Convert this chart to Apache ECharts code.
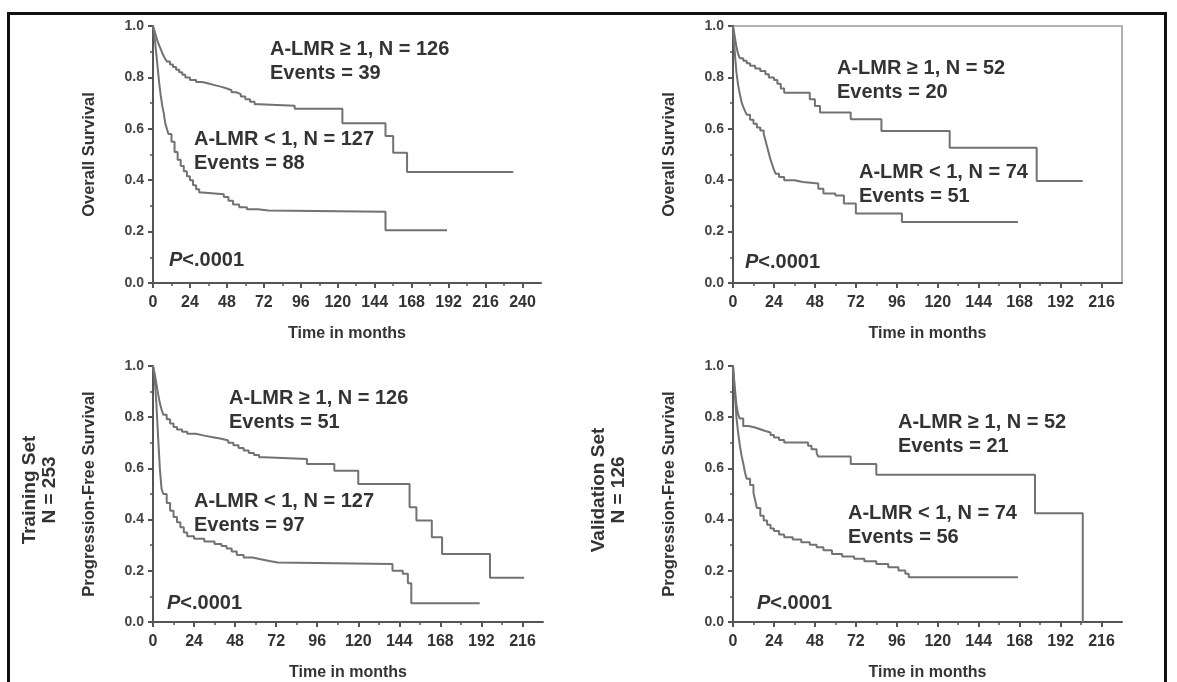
<!DOCTYPE html>
<html>
<head>
<meta charset="utf-8">
<script src="https://cdn.jsdelivr.net/npm/echarts@6/dist/echarts.min.js"></script>
<style>
  html, body { margin: 0; padding: 0; background: #fff; }
  #chart { width: 1177px; height: 682px; }
</style>
</head>
<body>
<div id="chart"></div>
<script>
// Kaplan-Meier curves, [months, survival]
var trainOsHigh = [[0,1],[1,0.98],[2,0.96],[3,0.94],[4,0.925],[5,0.91],[6,0.895],[7,0.882],[8,0.872],[9,0.862],[11,0.85],[13,0.84],[15,0.83],[17,0.82],[19,0.81],[21,0.8],[24,0.79],[28,0.782],[32,0.776],[36,0.77],[40,0.764],[44,0.757],[48,0.75],[51,0.742],[54,0.735],[57,0.726],[60,0.715],[63,0.705],[66,0.696],[69,0.69],[92,0.678],[123,0.622],[151,0.572],[156,0.507],[165,0.432],[234,0.432]];
var trainOsLow = [[0,1],[1,0.96],[2,0.9],[3,0.84],[4,0.78],[5,0.73],[6,0.69],[7,0.66],[8,0.62],[9,0.6],[10,0.58],[12,0.55],[14,0.51],[16,0.48],[18,0.455],[20,0.435],[22,0.415],[24,0.4],[26,0.38],[28,0.365],[30,0.352],[32,0.345],[46,0.335],[49,0.32],[52,0.305],[56,0.295],[61,0.287],[68,0.282],[75,0.277],[151,0.205],[191,0.205]];
var valOsHigh = [[0,1],[1,0.96],[2,0.92],[3,0.89],[4,0.875],[6,0.865],[8,0.855],[10,0.845],[13,0.835],[16,0.825],[19,0.812],[21,0.8],[24,0.79],[26,0.775],[28,0.757],[30,0.74],[45,0.715],[48,0.689],[51,0.663],[69,0.637],[87,0.591],[127,0.526],[178,0.397],[205,0.397]];
var valOsLow = [[0,1],[1,0.9],[2,0.82],[3,0.77],[4,0.735],[5,0.705],[6,0.685],[7,0.67],[8,0.655],[10,0.635],[12,0.62],[14,0.605],[16,0.593],[18,0.58],[19,0.555],[20,0.53],[21,0.505],[22,0.48],[23,0.46],[24,0.44],[25,0.425],[27,0.412],[30,0.4],[36,0.393],[41,0.387],[50,0.367],[53,0.348],[60,0.34],[65,0.309],[72,0.27],[99,0.237],[167,0.237]];
var trainPfsHigh = [[0,1],[1,0.97],[2,0.93],[3,0.89],[4,0.855],[5,0.83],[6,0.81],[8,0.792],[10,0.775],[12,0.762],[14,0.752],[17,0.743],[20,0.735],[25,0.728],[30,0.722],[35,0.716],[40,0.709],[44,0.7],[47,0.69],[50,0.68],[53,0.67],[56,0.66],[59,0.652],[62,0.644],[65,0.637],[90,0.617],[106,0.591],[120,0.539],[150,0.448],[154,0.396],[163,0.331],[169,0.266],[197,0.173],[217,0.173]];
var trainPfsLow = [[0,1],[1,0.95],[2,0.85],[3,0.72],[4,0.6],[5,0.52],[6,0.5],[8,0.465],[10,0.435],[12,0.41],[14,0.39],[16,0.37],[18,0.35],[20,0.335],[24,0.325],[30,0.314],[36,0.305],[40,0.297],[43,0.287],[46,0.275],[49,0.262],[53,0.252],[58,0.245],[63,0.238],[68,0.232],[73,0.227],[140,0.2],[146,0.188],[149,0.151],[151,0.073],[191,0.073]];
var valPfsHigh = [[0,1],[1,0.92],[2,0.85],[3,0.81],[4,0.795],[6,0.766],[9,0.76],[13,0.753],[16,0.746],[19,0.74],[22,0.73],[24,0.721],[27,0.711],[30,0.701],[44,0.688],[46,0.675],[49,0.66],[50,0.646],[69,0.617],[84,0.575],[177,0.425],[205,0]];
var valPfsLow = [[0,1],[1,0.9],[2,0.8],[3,0.74],[4,0.69],[5,0.65],[6,0.62],[7,0.585],[8,0.56],[10,0.535],[12,0.505],[13,0.475],[14,0.445],[16,0.415],[18,0.396],[20,0.38],[22,0.365],[24,0.355],[27,0.342],[30,0.331],[35,0.322],[40,0.312],[45,0.302],[49,0.292],[53,0.28],[58,0.266],[64,0.256],[71,0.247],[77,0.237],[84,0.227],[91,0.214],[97,0.201],[101,0.188],[103,0.175],[167,0.175]];

// tick labels
var xTicks240 = [0,24,48,72,96,120,144,168,192,216,240];
var xTicks216 = [0,24,48,72,96,120,144,168,192,216];
var xMax = [252, 228, 228, 228];
var yNames = ['Overall Survival', 'Overall Survival', 'Progression-Free Survival', 'Progression-Free Survival'];

var FONT = '"Liberation Sans", Arial, sans-serif';
var TXT = '#333';
var AX = '#555';

var grids = [
  {left: 153, top: 26, width: 388, height: 257},
  {left: 733, top: 26, width: 389, height: 257, show: true, borderColor: '#999', borderWidth: 1.5},
  {left: 153, top: 366, width: 390, height: 257},
  {left: 733, top: 366, width: 389, height: 257}
];

function xAxisFor(i, ticks) {
  return {
    type: 'value', gridIndex: i, min: 0, max: xMax[i], interval: 24,
    name: 'Time in months', nameLocation: 'middle', nameGap: 43,
    nameTextStyle: {fontSize: 16, fontWeight: 'bold', color: TXT, fontFamily: FONT},
    axisLine: {show: true, onZero: false, lineStyle: {color: AX, width: 2}},
    axisTick: {show: true, customValues: ticks, length: 5, lineStyle: {color: AX, width: 2}},
    minorTick: {show: true, splitNumber: 2, length: 3, lineStyle: {color: AX, width: 1.5}},
    axisLabel: {customValues: ticks, fontSize: 16, fontWeight: 'bold', color: TXT, fontFamily: FONT, margin: 12},
    splitLine: {show: false}
  };
}
function yAxisFor(i) {
  return {
    type: 'value', gridIndex: i, min: 0, max: 1, interval: 0.2,
    name: yNames[i], nameLocation: 'middle', nameGap: 55,
    nameTextStyle: {fontSize: 16.5, fontWeight: 'bold', color: TXT, fontFamily: FONT},
    axisLine: {show: true, onZero: false, lineStyle: {color: AX, width: 2}},
    axisTick: {show: true, length: 5, lineStyle: {color: AX, width: 2}},
    minorTick: {show: true, splitNumber: 2, length: 3, lineStyle: {color: AX, width: 1.5}},
    axisLabel: {fontSize: 14, fontWeight: 'bold', color: '#444', fontFamily: FONT, margin: 9,
      formatter: function (v) { return v.toFixed(1); }},
    splitLine: {show: false}
  };
}
function km(i, data) {
  return {
    type: 'line', xAxisIndex: i, yAxisIndex: i, data: data, step: 'end',
    symbol: 'none', silent: true,
    lineStyle: {color: '#727272', width: 2}
  };
}
function label(x, y, text) {
  return {
    type: 'text', x: x, y: y,
    style: {text: text, fontSize: 20, fontWeight: 'bold', fontFamily: FONT, fill: TXT, lineHeight: 24, verticalAlign: 'top'}
  };
}
function pval(x, y) {
  return {
    type: 'text', x: x, y: y,
    style: {text: '{i|P}<.0001', fontSize: 20, fontWeight: 'bold', fontFamily: FONT, fill: TXT, verticalAlign: 'middle',
      rich: {i: {fontStyle: 'italic', fontSize: 20, fontWeight: 'bold', fontFamily: FONT, fill: TXT}}}
  };
}
function sideLabel(x, y, text) {
  return {
    type: 'text', x: x, y: y, rotation: Math.PI / 2,
    style: {text: text, fontSize: 19, fontWeight: 'bold', fontFamily: FONT, fill: TXT, lineHeight: 20,
      align: 'center', verticalAlign: 'middle'}
  };
}

var chart = echarts.init(document.getElementById('chart'));
chart.setOption({
  backgroundColor: '#fff',
  animation: false,
  grid: grids,
  xAxis: [xAxisFor(0, xTicks240), xAxisFor(1, xTicks216), xAxisFor(2, xTicks216), xAxisFor(3, xTicks216)],
  yAxis: [yAxisFor(0), yAxisFor(1), yAxisFor(2), yAxisFor(3)],
  series: [
    km(0, trainOsHigh), km(0, trainOsLow),
    km(1, valOsHigh), km(1, valOsLow),
    km(2, trainPfsHigh), km(2, trainPfsLow),
    km(3, valPfsHigh), km(3, valPfsLow)
  ],
  graphic: [
    // outer frame
    {type: 'line', shape: {x1: 7, y1: 13.5, x2: 1167, y2: 13.5}, style: {stroke: '#111', lineWidth: 3}},
    {type: 'line', shape: {x1: 8.5, y1: 12, x2: 8.5, y2: 682}, style: {stroke: '#111', lineWidth: 3}},
    {type: 'line', shape: {x1: 1165.5, y1: 12, x2: 1165.5, y2: 682}, style: {stroke: '#111', lineWidth: 3}},
    label(270, 37, 'A-LMR ≥ 1, N = 126\nEvents = 39'),
    label(194, 127, 'A-LMR < 1, N = 127\nEvents = 88'),
    pval(169, 260),
    label(837, 56, 'A-LMR ≥ 1, N = 52\nEvents = 20'),
    label(859, 160, 'A-LMR < 1, N = 74\nEvents = 51'),
    pval(745, 262),
    label(229, 386, 'A-LMR ≥ 1, N = 126\nEvents = 51'),
    label(194, 489, 'A-LMR < 1, N = 127\nEvents = 97'),
    pval(167, 603),
    label(898, 410, 'A-LMR ≥ 1, N = 52\nEvents = 21'),
    label(848, 501, 'A-LMR < 1, N = 74\nEvents = 56'),
    pval(757, 603),
    sideLabel(40, 490, 'Training Set\nN = 253'),
    sideLabel(609, 490, 'Validation Set\nN = 126')
  ]
});
</script>
</body>
</html>
